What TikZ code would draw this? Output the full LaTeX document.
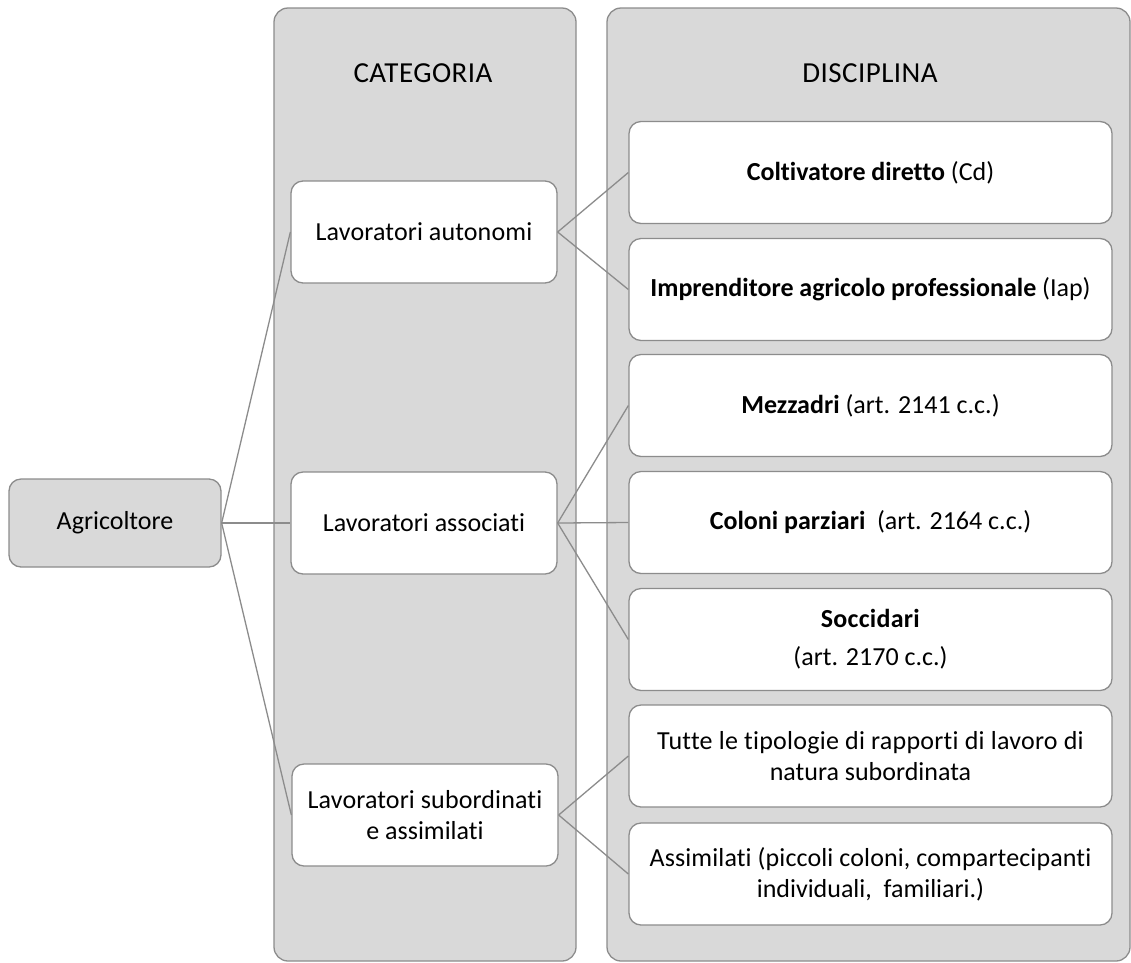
\documentclass[tikz,border=0pt]{standalone}
\usepackage{fontspec}
\setmainfont{Carlito}[Ligatures=NoCommon]
\definecolor{panelfill}{HTML}{D9D9D9}
\definecolor{edgegray}{HTML}{8C8C8C}
\newcommand{\lsp}[1]{\addfontfeature{LetterSpace=#1}}
\begin{document}
\begin{tikzpicture}[x=1pt,y=-1pt,
  panel/.style={draw=edgegray,line width=1.3pt,fill=panelfill,rounded corners=14pt},
  catbox/.style={draw=edgegray,line width=1.3pt,fill=white,rounded corners=12pt,minimum width=266pt,minimum height=102pt,inner sep=0pt,align=center,font=\fontsize{26}{31}\selectfont},
  discbox/.style={draw=edgegray,line width=1.3pt,fill=white,rounded corners=12pt,minimum width=483pt,minimum height=102pt,inner sep=0pt,align=center,font=\fontsize{26}{31}\selectfont},
  rootbox/.style={draw=edgegray,line width=1.3pt,fill=panelfill,rounded corners=12pt,minimum width=212pt,minimum height=88pt,inner sep=0pt,font=\fontsize{26}{31}\selectfont},
  title/.style={font=\fontsize{29}{34}\selectfont\lsp{1.5},inner sep=0pt},
  link/.style={draw=edgegray,line width=1.3pt}]
\useasboundingbox (0,0) rectangle (1131,962);
\fill[white] (0,0) rectangle (1131,962);
% panels
\draw[panel] (274,8) rectangle (576,961);
\draw[panel] (607,8) rectangle (1130,961);
\node[title] (cattitle) at (423,73) {CATEGORIA};
\node[title] (disctitle) at (870,73) {DISCIPLINA};
% root
\node[rootbox] (agr) at (115,523) {Agricoltore};
% categories
\node[catbox] (aut) at (424,232) {\lsp{0.5}Lavoratori autonomi};
\node[catbox] (ass) at (424,523) {Lavoratori associati};
\node[catbox] (sub) at (425,815) {\lsp{0.5}Lavoratori subordinati\\e assimilati};
% discipline
\node[discbox] (cd) at (870.5,172.5) {\textbf{Coltivatore diretto} (Cd)};
\node[discbox] (iap) at (870.5,289.5) {\textbf{Imprenditore agricolo professionale} (Iap)};
\node[discbox] (mez) at (870.5,405.5) {\textbf{Mezzadri} (art. 2141 c.c.)};
\node[discbox] (col) at (870.5,522.5) {\textbf{Coloni parziari}\ \ (art. 2164 c.c.)};
\node[discbox] (soc) at (870.5,639.5) {\lsp{1}\textbf{Soccidari}\\[7pt](art. 2170 c.c.)};
\node[discbox] (tut) at (870.5,756) {\lsp{1}Tutte le tipologie di rapporti di lavoro di\\natura subordinata};
\node[discbox] (asm) at (870.5,874) {\lsp{0.5}Assimilati (piccoli coloni, compartecipanti\\individuali,\ \ familiari.)};
% connectors
\draw[link] (agr.east) -- (aut.west);
\draw[link] (agr.east) -- (ass.west);
\draw[link] (agr.east) -- (sub.west);
\draw[link] (aut.east) -- (cd.west);
\draw[link] (aut.east) -- (iap.west);
\draw[link] (ass.east) -- (mez.west);
\draw[link] (ass.east) -- (col.west);
\draw[link] (ass.east) -- (soc.west);
\draw[link] (sub.east) -- (tut.west);
\draw[link] (sub.east) -- (asm.west);
\end{tikzpicture}
\end{document}
